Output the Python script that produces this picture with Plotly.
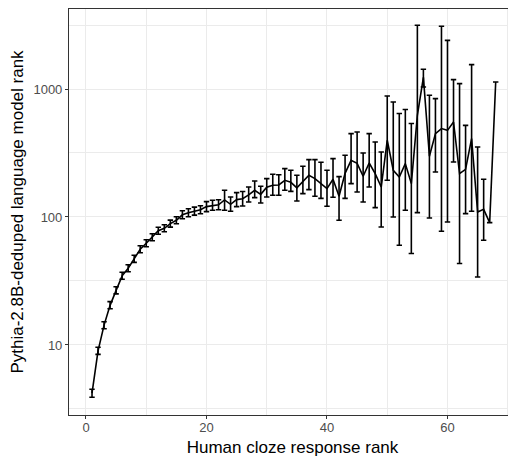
import plotly.graph_objects as go

# Human cloze response rank
ranks = list(range(1, 69))

# Mean language model rank per human rank
mean_rank = [4.2, 9.0, 14.3, 20.4, 26.7, 34.7, 39.7, 47.1, 56, 62.4,
             69.4, 78, 81.6, 88.8, 94.3, 104, 108, 111, 114, 120.5,
             123, 124.5, 136, 125.6, 136.7, 139, 149, 161.7, 150.3, 170.6,
             176.9, 178, 193.5, 186.7, 169, 190, 211.9, 199.5, 182.4, 166.7,
             197, 145.1, 219.1, 277.3, 262.7, 208, 264.1, 218.2, 171.4, 397.5,
             231.7, 205.4, 261.2, 182.4, 623, 1233, 298, 448, 490.6, 475,
             552, 218.2, 235.9, 409.7, 109.4, 114.8, 90.4, 1134]

# Lower / upper ends of the error bars
lower_rank = [3.91, 8.45, 13.4, 19.2, 25.1, 32.6, 37.3, 44.2, 52.5, 58.5,
              65.2, 73.3, 76.6, 83.4, 88.5, 96.8, 100.4, 103.5, 105.9, 110.2,
              112.8, 113.8, 112.8, 110.8, 120.5, 122, 131, 141.8, 128.5, 143.3,
              147.7, 148, 161.7, 158.6, 133.4, 152.3, 163.7, 145.1, 139.9, 121.2,
              142.6, 94.3, 139.9, 182.4, 156.6, 131, 171.4, 118.4, 83.6, 193.5,
              100, 60.1, 112.8, 51.8, 108.2, 1036, 98.2, 224.7, 77.3, 91.4,
              269, 43.3, 106.3, 110.8, 34, 65.8, None, None]

upper_rank = [4.51, 9.6, 15.2, 21.8, 28.5, 37.0, 42.3, 50.2, 59.6, 66.4,
              73.9, 83.1, 86.9, 94.6, 100.4, 111.8, 115.9, 119.5, 122.4, 131.9,
              135, 136.3, 161.7, 143.3, 155, 158, 171.4, 191, 173.7, 199.5,
              215.6, 214, 238.8, 231.7, 211.9, 248.9, 280.7, 280.7, 267.4, 231.7,
              285.8, 206.9, 303.5, 448.3, 461.6, 316.2, 448.3, 385.3, 322, 881,
              790.7, 642.7, 690.8, 537, 3148, 1426, 893, 841, 3090, 2400,
              1183, 1101, 520, 1549, 352, 197, None, None]

x_ticks = [0, 20, 40, 60]
y_ticks = [10, 100, 1000]
y_tick_labels = ["10", "100", "1000"]

err_plus = [None if u is None else u - m for u, m in zip(upper_rank, mean_rank)]
err_minus = [None if l is None else m - l for l, m in zip(lower_rank, mean_rank)]

fig = go.Figure()
fig.add_trace(go.Scatter(
    x=ranks, y=mean_rank, mode="lines",
    line=dict(color="black", width=1.6),
    error_y=dict(type="data", symmetric=False, array=err_plus,
                 arrayminus=err_minus, color="black", thickness=1.6, width=2.7),
    showlegend=False,
))

grid = "#EBEBEB"
axis_font = dict(family="Liberation Sans, Arial, sans-serif", size=13, color="#4D4D4D")
title_font = dict(family="Liberation Sans, Arial, sans-serif", size=17, color="black")

fig.update_layout(
    width=508, height=449,
    margin=dict(l=61, r=0, t=1, b=42),
    paper_bgcolor="white", plot_bgcolor="white",
    xaxis=dict(
        range=[-2.82, 71.37], tickvals=x_ticks, ticks="outside", ticklen=3,
        tickcolor="#333333", tickwidth=1.1, ticklabelstandoff=-3,
        showgrid=True, gridcolor=grid, gridwidth=1.1, zeroline=False,
        showline=True, linecolor="#333333", linewidth=1.1, mirror=True,
        minor=dict(tickvals=[10, 30, 50, 70], showgrid=True, gridcolor=grid, gridwidth=0.6, ticks=""),
        tickfont=axis_font,
        title=dict(text="Human cloze response rank", font=title_font, standoff=10),
    ),
    yaxis=dict(
        type="log", range=[0.453, 3.625], tickvals=y_ticks, ticktext=y_tick_labels,
        ticks="outside", ticklen=3, tickcolor="#333333", tickwidth=1.1,
        showgrid=True, gridcolor=grid, gridwidth=1.1, zeroline=False,
        showline=True, linecolor="#333333", linewidth=1.1, mirror=True,
        minor=dict(tickvals=[10 ** 0.5, 10 ** 1.5, 10 ** 2.5, 10 ** 3.5], showgrid=True,
                   gridcolor=grid, gridwidth=0.6, ticks=""),
        tickfont=axis_font,
        title=dict(text="Pythia-2.8B-deduped language model rank", font=title_font, standoff=6),
    ),
)

fig.write_html("out.html")
